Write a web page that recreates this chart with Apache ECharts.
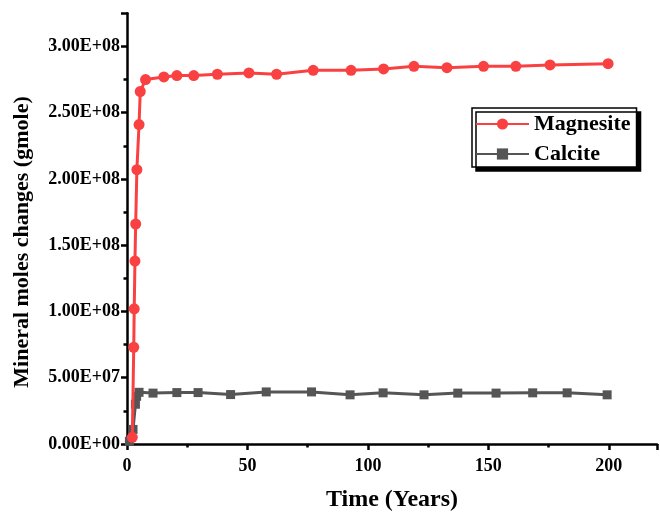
<!DOCTYPE html>
<html>
<head>
<meta charset="utf-8">
<script src="https://cdn.jsdelivr.net/npm/echarts@6/dist/echarts.min.js"></script>
<style>html,body{margin:0;padding:0;background:#fff}#c{width:660px;height:517px}</style>
</head>
<body>
<div id="c"></div>
<script>
// Data
const magnesiteX = [2.2, 2.8, 3.0, 3.3, 3.6, 4.1, 5.0, 5.5, 7.7, 15.3, 20.7, 27.7, 37.5, 50.6, 62.1, 77.3, 93.0, 106.5, 119.1, 132.8, 148.0, 161.4, 175.6, 199.7];
const magnesiteY = [0.05e8, 0.73e8, 1.02e8, 1.38e8, 1.66e8, 2.07e8, 2.41e8, 2.66e8, 2.75e8, 2.77e8, 2.78e8, 2.78e8, 2.79e8, 2.80e8, 2.79e8, 2.82e8, 2.82e8, 2.83e8, 2.85e8, 2.84e8, 2.85e8, 2.85e8, 2.86e8, 2.87e8];
const calciteX = [1.0, 2.5, 3.5, 4.0, 5.0, 10.8, 20.7, 29.5, 43.0, 57.8, 76.6, 92.6, 106.3, 123.3, 137.3, 153.2, 168.4, 182.7, 199.3];
const calciteY = [0.02e8, 0.11e8, 0.30e8, 0.36e8, 0.39e8, 0.384e8, 0.388e8, 0.388e8, 0.373e8, 0.393e8, 0.393e8, 0.371e8, 0.386e8, 0.371e8, 0.384e8, 0.384e8, 0.386e8, 0.386e8, 0.371e8];
const yTickLabels = ['0.00E+00', '5.00E+07', '1.00E+08', '1.50E+08', '2.00E+08', '2.50E+08', '3.00E+08'];
const xTickLabels = ['0', '50', '100', '150', '200'];
const seriesNames = ['Magnesite', 'Calcite'];

const FONT = '"Liberation Serif", "Times New Roman", serif';
const chart = echarts.init(document.getElementById('c'), null, {renderer: 'canvas'});
const zip = (xs, ys) => xs.map((x, i) => [x, ys[i]]);

chart.setOption({
  animation: false,
  backgroundColor: '#fff',
  grid: {left: 127, right: 3, top: 13.3, bottom: 65.3, containLabel: false},
  xAxis: {
    type: 'value', min: 0, max: 220, interval: 50,
    name: 'Time (Years)', nameLocation: 'middle', nameGap: 44,
    nameTextStyle: {fontFamily: FONT, fontWeight: 'bold', fontSize: 24, color: '#000', verticalAlign: 'top'},
    axisLine: {show: true, lineStyle: {color: '#000', width: 2.5}},
    axisTick: {show: true, inside: false, length: 6, lineStyle: {color: '#000', width: 2.5}},
    minorTick: {show: true, splitNumber: 2, length: 3.5, lineStyle: {color: '#000', width: 2.5}},
    splitLine: {show: false},
    axisLabel: {
      margin: 13, fontFamily: FONT, fontWeight: 'bold', fontSize: 18, color: '#000',
      showMaxLabel: false,
      formatter: v => { const i = v / 50; return Number.isInteger(i) && i < xTickLabels.length ? xTickLabels[i] : ''; }
    }
  },
  yAxis: {
    type: 'value', min: 0, max: 3.25e8, interval: 5e7,
    axisLine: {show: true, lineStyle: {color: '#000', width: 2.5}},
    axisTick: {show: true, inside: false, length: 6, lineStyle: {color: '#000', width: 2.5}},
    minorTick: {show: true, splitNumber: 2, length: 3.5, lineStyle: {color: '#000', width: 2.5}},
    splitLine: {show: false},
    axisLabel: {
      margin: 7, fontFamily: FONT, fontWeight: 'bold', fontSize: 18, color: '#000',
      showMaxLabel: false,
      formatter: v => { const i = Math.round(v / 5e7); return Math.abs(v - i * 5e7) < 1 && i < yTickLabels.length ? yTickLabels[i] : ''; }
    }
  },
  legend: {
    orient: 'vertical', left: 472, top: 108,
    data: seriesNames,
    backgroundColor: '#fff', borderColor: '#000', borderWidth: 1.5,
    shadowColor: '#000', shadowBlur: 0, shadowOffsetX: 4, shadowOffsetY: 4,
    padding: [5, 6, 2, 3], itemGap: 8, itemWidth: 53, itemHeight: 14,
    textStyle: {fontFamily: FONT, fontWeight: 'bold', fontSize: 22, color: '#000'}
  },
  graphic: [{
    type: 'text',
    x: 22, y: 242, rotation: Math.PI / 2,
    style: {text: 'Mineral moles changes (gmole)', font: 'bold 22px ' + FONT, fill: '#000', align: 'center', verticalAlign: 'middle'}
  }],
  series: [
    {
      name: seriesNames[1], type: 'line', data: zip(calciteX, calciteY),
      symbol: 'rect', symbolSize: 9,
      itemStyle: {color: '#555555'}, lineStyle: {color: '#555555', width: 3}, z: 2
    },
    {
      name: seriesNames[0], type: 'line', data: zip(magnesiteX, magnesiteY),
      symbol: 'circle', symbolSize: 11,
      itemStyle: {color: '#fa4141'}, lineStyle: {color: '#fa4141', width: 3}, z: 3
    }
  ]
});
</script>
</body>
</html>
